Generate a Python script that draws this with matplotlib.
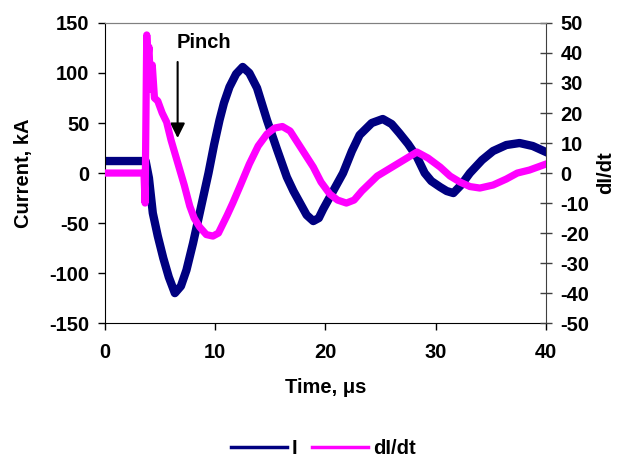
import numpy as np
import matplotlib
matplotlib.use("Agg")
import matplotlib.pyplot as plt

plt.rcParams['font.family'] = ['Liberation Sans', 'DejaVu Sans']
plt.rcParams['font.weight'] = 'bold'
plt.rcParams['axes.unicode_minus'] = False

i_col = "#000080"
didt_col = "#ff00ff"

# current trace (kA)
t_cur = [0, 3.7, 4.0, 4.35, 4.8, 5.3, 5.8, 6.35, 6.9, 7.4, 8.0, 8.6, 9.4,
         9.9, 10.4, 10.8, 11.3, 11.9, 12.5, 13.1, 13.8, 14.7, 15.6, 16.5,
         17.1, 17.7, 18.3, 18.9, 19.4, 19.8, 20.7, 21.6, 22.4, 23.1, 24.2,
         25.2, 26.0, 26.7, 27.5, 28.3, 29.0, 29.6, 30.4, 31.0, 31.6, 32.3,
         33.1, 34.2, 35.2, 36.4, 37.6, 38.8, 40]
cur = [12, 12, -5, -40, -63, -85, -104, -120, -113, -97, -70, -40, 0,
       28, 53, 70, 86, 99, 106, 100, 85, 53, 24, -4,
       -18, -30, -42, -48, -45, -36, -18, 0, 22, 38, 50,
       54, 49, 40, 29, 16, 0, -8, -14, -18, -20, -12,
       0, 13, 22, 28, 30, 27, 21]

# dI/dt trace
t_didt = [0, 3.55, 3.65, 3.8, 3.9, 4.0, 4.15, 4.3, 4.5, 4.8, 5.2, 5.6, 6.0,
          6.4, 6.8, 7.2, 7.7, 8.1, 8.6, 9.2, 9.8, 10.3, 10.7, 11.1, 11.6,
          12.3, 13.1, 13.9, 14.7, 15.4, 16.1, 16.8, 17.5, 18.2, 18.9, 19.6,
          20.4, 21.1, 21.9, 22.6, 23.3, 24.0, 24.7, 25.6, 26.5, 27.4, 28.3,
          29.3, 30.4, 31.3, 32.2, 33.1, 34.0, 35.2, 36.4, 37.4, 38.5, 40]
didt = [0, 0, -10, 46, 38, 42, 28, 36, 25, 24, 20, 17, 11,
        6, 1, -4, -11, -15, -18, -20.5, -21, -20, -17, -14, -10,
        -4, 3, 9, 13, 15, 15.5, 14, 10, 6, 2, -3,
        -7, -9, -10, -9, -6, -3.5, -1, 1, 3, 5, 7,
        5, 2, -1, -3, -4.5, -5, -4, -2, 0, 1, 3]

fig = plt.figure(figsize=(6.24, 4.59), dpi=100)
ax = fig.add_axes([0.168, 0.296, 0.707, 0.654])
ax2 = ax.twinx()

ax.plot(t_cur, cur, color=i_col, lw=6, solid_joinstyle='round')
ax2.plot(t_didt, didt, color=didt_col, lw=5.2, solid_joinstyle='round')

ax.set_xlim(0, 40)
ax.set_ylim(-150, 150)
ax2.set_ylim(-50, 50)
ax.set_xticks(np.arange(0, 41, 10))
ax.set_yticks(np.arange(-150, 151, 50))
ax2.set_yticks(np.arange(-50, 51, 10))

fs = 14.5
ax.tick_params(axis='both', direction='out', length=5, width=1, labelsize=fs, color='black')
ax.tick_params(axis='x', pad=9)
ax.tick_params(axis='y', pad=6)
ax2.tick_params(axis='y', direction='inout', length=9, width=1, labelsize=fs,
                color='#404040', pad=6)

for s in ['left', 'bottom']:
    ax.spines[s].set_color('black')
ax.spines['top'].set_color('#808080')
ax.spines['right'].set_visible(False)
ax2.spines['right'].set_color('#404040')
ax2.spines['top'].set_color('#808080')
ax2.spines['left'].set_visible(False)
ax2.spines['bottom'].set_visible(False)

ax.set_xlabel("Time, μs", fontsize=fs, fontweight='bold', labelpad=12)
ax.set_ylabel("Current, kA", fontsize=fs, fontweight='bold', labelpad=12)
ax2.set_ylabel("dI/dt", fontsize=fs, fontweight='bold', labelpad=5)

ax.annotate("", xy=(6.6, 35), xytext=(6.6, 111),
            arrowprops=dict(arrowstyle='-|>', color='black', lw=1.5,
                            mutation_scale=22, shrinkA=0, shrinkB=0))
ax.text(6.5, 130, "Pinch", fontsize=fs, fontweight='bold', va='center', ha='left')

h1, = ax.plot([], [], color=i_col, lw=2.5)
h2, = ax.plot([], [], color=didt_col, lw=2.5)
fig.legend([h1, h2], ["I", "dI/dt"], loc='center', bbox_to_anchor=(0.518, 0.022),
           ncol=2, frameon=False, fontsize=fs, handlelength=2.8,
           handletextpad=0.25, columnspacing=0.7)

fig.savefig("out.png", dpi=100)
